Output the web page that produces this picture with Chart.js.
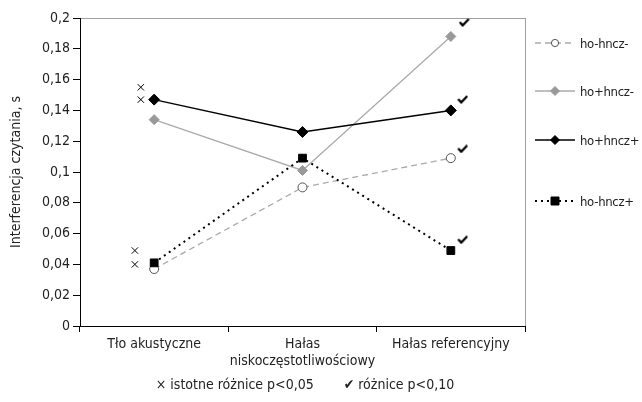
<!DOCTYPE html>
<html>
<head>
<meta charset="utf-8">
<script src="https://cdn.jsdelivr.net/npm/chart.js@4"></script>
<style>
body { margin: 0; background: #fff; font-family: 'DejaVu Sans Condensed', sans-serif; }
#wrap { position: relative; width: 642px; height: 402px; }
#chart { position: absolute; left: 0; top: 0; }
.leg { position: absolute; left: 534px; height: 16px; display: flex; align-items: center; font-size: 13px; color: #222; letter-spacing: -0.3px; }
.leg canvas { margin-right: 4px; }
#note { position: absolute; top: 376px; left: 0; width: 610px; text-align: center; font-size: 14px; color: #222; }
#note span { margin: 0 15px; }
#note b { font-weight: bold; }
</style>
</head>
<body>
<div id="wrap">
    <canvas id="chart" width="642" height="402"></canvas>
    <div id="legend"></div>
    <div id="note"><span>× istotne różnice p&lt;0,05</span><span><b>✔</b> różnice p&lt;0,10</span></div>
</div>
<script>
// kategorie i wartości
const categories = [['Tło akustyczne'], ['Hałas', 'niskoczęstotliwościowy'], ['Hałas referencyjny']];
const seriesNames = ['ho-hncz-', 'ho+hncz-', 'ho+hncz+', 'ho-hncz+'];
const hoMinusHnczMinus = [0.037, 0.090, 0.109];
const hoPlusHnczMinus = [0.134, 0.101, 0.188];
const hoPlusHnczPlus = [0.147, 0.126, 0.140];
const hoMinusHnczPlus = [0.041, 0.109, 0.049];
// znaczniki istotności (x w jednostkach kategorii 0..3)
const crossX = [0.41, 0.41, 0.37, 0.37];
const crossY = [0.155, 0.147, 0.049, 0.040];
const checkX = [2.59, 2.58, 2.58, 2.58];
const checkY = [0.197, 0.147, 0.115, 0.056];
const yTicks = [0, 0.02, 0.04, 0.06, 0.08, 0.1, 0.12, 0.14, 0.16, 0.18, 0.2];

// znaczek "ptaszek"
const check = document.createElement('canvas');
check.width = 11; check.height = 9;
const cc = check.getContext('2d');
cc.strokeStyle = '#000'; cc.lineWidth = 2.3;
cc.beginPath(); cc.moveTo(1, 4); cc.lineTo(4, 7.3); cc.lineTo(10, 1); cc.stroke();

const styles = [
    { borderColor: '#aaaaaa', borderDash: [6, 4], borderWidth: 1.3, pointStyle: 'circle', pointRadius: 4.5, pointBackgroundColor: '#fff', pointBorderColor: '#555', pointBorderWidth: 1 },
    { borderColor: '#aaaaaa', borderDash: [], borderWidth: 1.3, pointStyle: 'rectRot', pointRadius: 5, pointBackgroundColor: '#999', pointBorderColor: '#999', pointBorderWidth: 1 },
    { borderColor: '#000', borderDash: [], borderWidth: 1.5, pointStyle: 'rectRot', pointRadius: 5.5, pointBackgroundColor: '#000', pointBorderColor: '#000', pointBorderWidth: 1 },
    { borderColor: '#000', borderDash: [2, 4], borderWidth: 2, pointStyle: 'rect', pointRadius: 5.5, pointBackgroundColor: '#000', pointBorderColor: '#000', pointBorderWidth: 1 }
];
const values = [hoMinusHnczMinus, hoPlusHnczMinus, hoPlusHnczPlus, hoMinusHnczPlus];

const datasets = values.map((v, i) => Object.assign({
    label: seriesNames[i],
    data: v,
    xAxisID: 'x',
    tension: 0,
    fill: false,
    order: 4 - i
}, styles[i]));

datasets.push({
    type: 'scatter',
    label: 'cross',
    data: crossX.map((x, i) => ({ x: x, y: crossY[i] })),
    xAxisID: 'x2',
    pointStyle: 'crossRot',
    pointRadius: 4.5,
    borderColor: '#000',
    borderWidth: 1,
    showLine: false
});
datasets.push({
    type: 'scatter',
    label: 'check',
    data: checkX.map((x, i) => ({ x: x, y: checkY[i] })),
    xAxisID: 'x2',
    pointStyle: check,
    showLine: false
});

// szara ramka obszaru wykresu
const frame = {
    id: 'frame',
    beforeDraw(chart) {
        const a = chart.chartArea, ctx = chart.ctx;
        ctx.save();
        ctx.strokeStyle = '#a0a0a0';
        ctx.lineWidth = 1;
        ctx.strokeRect(a.left + 0.5, a.top + 0.5, a.right - a.left, a.bottom - a.top);
        ctx.restore();
    }
};

const font = { family: "'DejaVu Sans Condensed', sans-serif", size: 14 };

new Chart(document.getElementById('chart'), {
    type: 'line',
    data: { labels: categories, datasets: datasets },
    options: {
        responsive: false,
        animation: false,
        layout: { padding: { left: 8, top: 18, right: 117, bottom: 0 } },
        plugins: { legend: { display: false }, tooltip: { enabled: false } },
        scales: {
            x: {
                type: 'category',
                offset: true,
                grid: { offset: true, drawOnChartArea: false, tickLength: 6, color: '#000' },
                border: { color: '#000', width: 1 },
                ticks: { color: '#222', font: font, padding: 4, maxRotation: 0, autoSkip: false },
                afterFit(s) { s.height = 76; }
            },
            x2: { type: 'linear', min: 0, max: 3, display: false },
            y: {
                min: 0, max: 0.2,
                afterBuildTicks(s) { s.ticks = yTicks.map(v => ({ value: v })); },
                grid: { drawOnChartArea: false, tickLength: 7, color: '#000' },
                border: { color: '#000', width: 1 },
                ticks: {
                    color: '#222', font: font, padding: 3,
                    callback: v => String(Number(v.toFixed(2))).replace('.', ',')
                },
                title: { display: true, text: 'Interferencja czytania, s', color: '#222', font: font, padding: 0 },
                afterFit(s) { s.width = 72; }
            }
        }
    },
    plugins: [frame]
});

// legenda po prawej stronie
const legendY = [43, 91, 140, 201];
const legendBox = document.getElementById('legend');
seriesNames.forEach((name, i) => {
    const st = styles[i];
    const item = document.createElement('div');
    item.className = 'leg';
    item.style.top = (legendY[i] - 8) + 'px';
    const c = document.createElement('canvas');
    c.width = 42; c.height = 16;
    const g = c.getContext('2d');
    g.strokeStyle = st.borderColor;
    g.lineWidth = st.borderWidth;
    g.setLineDash(st.borderDash);
    g.beginPath(); g.moveTo(1, 8); g.lineTo(41, 8); g.stroke();
    g.setLineDash([]);
    g.fillStyle = st.pointBackgroundColor;
    g.strokeStyle = st.pointBorderColor;
    g.lineWidth = 1;
    g.beginPath();
    if (st.pointStyle === 'circle') g.arc(21, 8, 3.6, 0, Math.PI * 2);
    else if (st.pointStyle === 'rect') g.rect(17, 4, 8, 8);
    else { g.moveTo(21, 3.5); g.lineTo(25.5, 8); g.lineTo(21, 12.5); g.lineTo(16.5, 8); g.closePath(); }
    g.fill(); g.stroke();
    item.appendChild(c);
    const t = document.createElement('span');
    t.textContent = name;
    item.appendChild(t);
    legendBox.appendChild(item);
});
</script>
</body>
</html>
